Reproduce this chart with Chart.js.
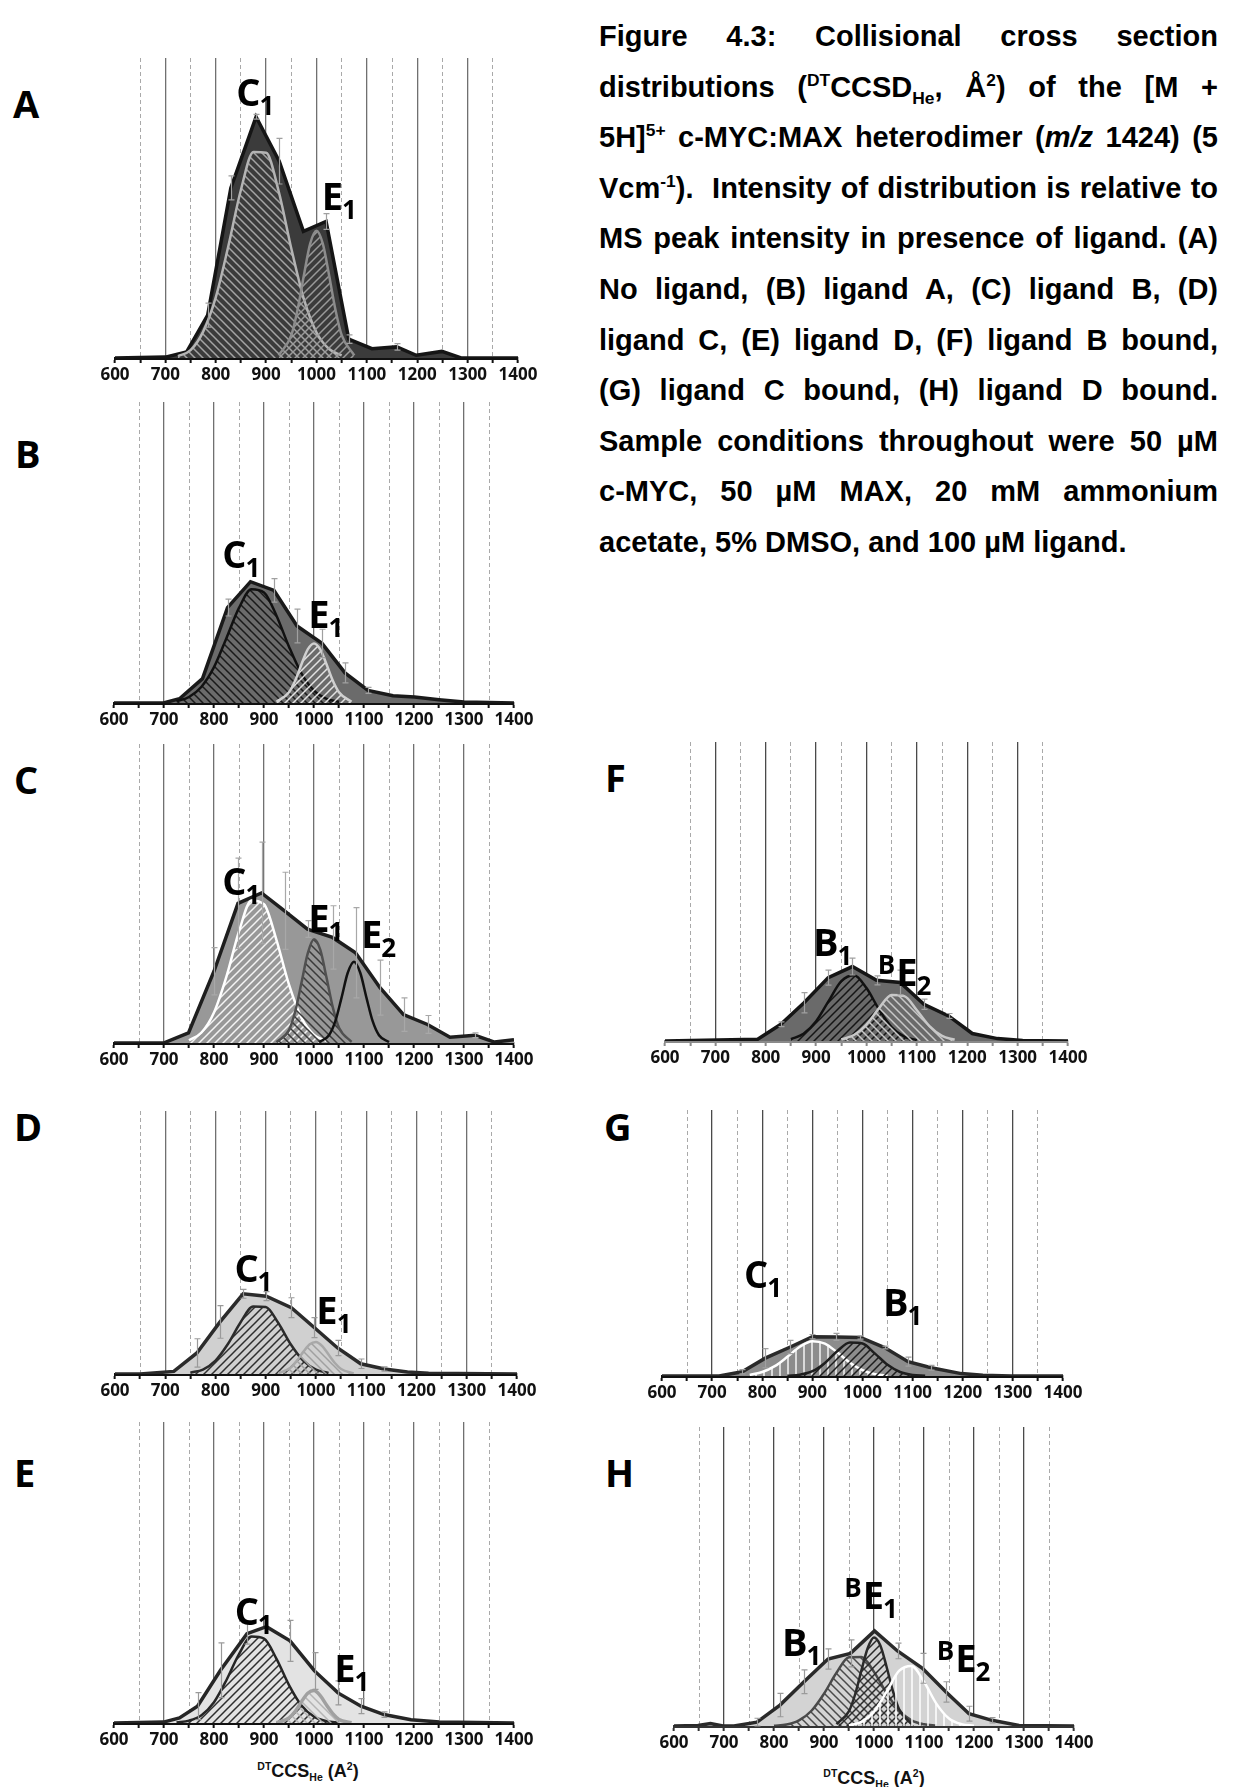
<!DOCTYPE html>
<html>
<head>
<meta charset="utf-8">
<script src="https://cdn.jsdelivr.net/npm/chart.js@4.4.1/dist/chart.umd.min.js"></script>
<style>
  html, body { margin: 0; padding: 0; background: #ffffff; }
  body { width: 1238px; height: 1787px; position: relative; overflow: hidden; }
  .panel { position: absolute; }
  .letter { position: absolute; font-family: 'Open Sans', sans-serif; font-weight: 700;
            font-size: 38px; line-height: 38px; color: #000; }
  .caption { position: absolute; left: 599px; top: 11px; width: 619px;
             font-family: 'Liberation Sans', Arial, sans-serif; font-weight: 700;
             font-size: 29px; line-height: 50.6px; color: #000; }
  .caption div { text-align: justify; text-align-last: justify; }
  .caption div.last { text-align-last: left; }
  .caption sup, .caption sub { font-size: 0.6em; line-height: 0; }
  .xtitle { position: absolute; font-family: 'Liberation Sans', Arial, sans-serif; font-weight: 700;
            font-size: 18px; line-height: 20px; color: #111; white-space: nowrap;
            transform: translate(-50%, -50%); }
  .xtitle .up { font-size: 10.5px; vertical-align: 7px; }
  .xtitle .dn { font-size: 10.5px; vertical-align: -4px; }
</style>
</head>
<body>

<div class="caption">
  <div>Figure 4.3: Collisional cross section</div>
  <div>distributions (<sup>DT</sup>CCSD<sub>He</sub>, Å<sup>2</sup>) of the [M +</div>
  <div>5H]<sup>5+</sup> c-MYC:MAX heterodimer (<i>m/z</i> 1424) (5</div>
  <div>Vcm<sup>-1</sup>).&nbsp; Intensity of distribution is relative to</div>
  <div>MS peak intensity in presence of ligand. (A)</div>
  <div>No ligand, (B) ligand A, (C) ligand B, (D)</div>
  <div>ligand C, (E) ligand D, (F) ligand B bound,</div>
  <div>(G) ligand C bound, (H) ligand D bound.</div>
  <div>Sample conditions throughout were 50 µM</div>
  <div>c-MYC, 50 µM MAX, 20 mM ammonium</div>
  <div class="last">acetate, 5% DMSO, and 100 µM ligand.</div>
</div>

<div class="xtitle" style="left:308px; top:1771px;"><span class="up">DT</span>CCS<span class="dn">He</span> (A<span class="up">2</span>)</div>
<div class="xtitle" style="left:874px; top:1778px;"><span class="up">DT</span>CCS<span class="dn">He</span> (A<span class="up">2</span>)</div>

<script>
// ---- axis ----
const tickLabels = ['600', '700', '800', '900', '1000', '1100', '1200', '1300', '1400'];

// ---- A: no ligand ----
const aTotalX = [600, 700, 742, 784, 830, 880, 926, 974, 1019, 1064, 1110, 1159, 1198, 1249, 1287, 1400];
const aTotalY = [0, 0.3, 2.0, 14.3, 56.7, 80.4, 65.6, 42.2, 45.5, 6.3, 3.1, 3.7, 0.9, 2.2, 0, 0];
const aErrX = [784, 830, 880, 926, 1019, 1064, 1159];
const aErrD = [4.0, 4.0, 0.8, 7.6, 2.6, 1.4, 1.1];
const aC1X = [725, 750, 775, 800, 825, 850, 875, 900, 925, 950, 975, 1000, 1025, 1050];
const aC1Y = [0.6, 2.6, 8.8, 20.2, 37.3, 56.1, 68.7, 68.4, 55.5, 36.5, 19.6, 8.5, 3.0, 0.9];
const aE1X = [925, 950, 962.5, 975, 987.5, 1000, 1012.5, 1025, 1037.5, 1050, 1075];
const aE1Y = [0.9, 7.6, 16.2, 27.6, 38.1, 42.4, 38.1, 27.6, 16.2, 7.6, 0.9];

// ---- B: ligand A ----
const bTotalX = [600, 699, 731, 777, 827, 873, 920, 966, 1016, 1062, 1108, 1158, 1201, 1250, 1300, 1400];
const bTotalY = [0, 0, 1.4, 8.1, 31.7, 40.3, 37.4, 25.6, 19.8, 10.0, 4.2, 2.4, 2.0, 1.1, 0.3, 0];
const bErrX = [827, 920, 966, 1016, 1062, 1108];
const bErrD = [2.8, 3.9, 5.6, 4.7, 3.3, 1.0];
const bC1X = [725, 750, 775, 800, 825, 850, 875, 900, 925, 950, 975, 1000, 1025, 1050];
const bC1Y = [0.6, 2.0, 5.4, 11.9, 21.6, 31.6, 37.8, 36.7, 29.0, 18.7, 9.8, 4.1, 1.4, 0.4];
const bE1X = [925, 950, 962.5, 975, 987.5, 1000, 1012.5, 1025, 1037.5, 1050, 1075];
const bE1Y = [0.4, 3.6, 7.5, 12.9, 17.8, 19.8, 17.8, 12.9, 7.5, 3.6, 0.4];

// ---- C: ligand B ----
const cTotalX = [600, 699, 749, 800, 848, 895, 941, 987, 1037, 1083, 1132, 1179, 1227, 1272, 1322, 1361, 1400];
const cTotalY = [0, 0, 3.4, 24.0, 46.7, 50.2, 44.2, 38.1, 35.3, 30.2, 18.5, 9.5, 6.2, 1.9, 2.6, 0.3, 1.1];
const cErrX = [800, 848, 895, 941, 987, 1037, 1083, 1132, 1179, 1227, 1322];
const cErrD = [7.9, 15.1, 17.0, 12.9, 2.8, 10.6, 15.1, 9.2, 5.6, 3.0, 0.8];
const cC1X = [750, 775, 800, 825, 850, 875, 900, 925, 950, 975, 1000, 1025];
const cC1Y = [0.9, 3.5, 10.2, 22.3, 37.3, 47.7, 46.4, 34.4, 19.5, 8.4, 2.7, 0.7];
const cE1X = [925, 950, 962.5, 975, 987.5, 1000, 1012.5, 1025, 1037.5, 1050, 1075];
const cE1Y = [0.3, 4.3, 10.6, 20.2, 30.0, 34.7, 31.2, 21.9, 12.0, 5.1, 0.4];
const cE2X = [1010, 1030, 1042.5, 1055, 1067.5, 1080, 1092.5, 1105, 1117.5, 1130, 1150];
const cE2Y = [0.3, 2.6, 7.2, 15.1, 23.5, 27.2, 23.5, 15.1, 7.2, 2.6, 0.3];

// ---- D: ligand C ----
const dTotalX = [600, 650, 717, 763, 809, 855, 901, 951, 997, 1043, 1089, 1136, 1182, 1224, 1400];
const dTotalY = [0, 0, 1.0, 8.0, 19.8, 30.5, 29.6, 25.2, 17.6, 9.9, 3.9, 1.9, 0.8, 0.25, 0];
const dErrX = [763, 809, 855, 901, 951, 997, 1043, 1089, 1136];
const dErrD = [5.4, 6.2, 1.7, 1.7, 3.8, 3.8, 2.9, 1.8, 0.8];
const dC1X = [750, 775, 800, 825, 850, 875, 900, 925, 950, 975, 1000, 1025];
const dC1Y = [0.5, 1.7, 5.1, 11.5, 19.7, 25.7, 25.5, 19.4, 11.2, 5.0, 1.7, 0.4];
const dE1X = [925, 950, 962.5, 975, 987.5, 1000, 1012.5, 1025, 1037.5, 1050, 1075];
const dE1Y = [0.3, 2.5, 5.2, 8.5, 11.3, 12.2, 10.6, 7.4, 4.2, 1.9, 0.2];

// ---- E: ligand D ----
const eTotalX = [600, 699, 731, 767, 813, 866, 905, 952, 1001, 1048, 1094, 1140, 1194, 1251, 1400];
const eTotalY = [0, 0.3, 1.7, 5.6, 17.5, 29.7, 32.0, 27.3, 17.3, 10.0, 5.6, 2.8, 1.1, 0.3, 0];
const eErrX = [767, 813, 866, 952, 1001, 1048, 1094, 1140];
const eErrD = [4.5, 9.1, 3.5, 6.8, 6.1, 4.0, 2.5, 0.9];
const eC1X = [725, 750, 775, 800, 825, 850, 875, 900, 925, 950, 975, 1000, 1025, 1050];
const eC1Y = [0.2, 0.8, 2.6, 6.9, 14.3, 22.9, 28.7, 28.0, 21.3, 12.6, 5.8, 2.1, 0.6, 0.1];
const eE1X = [925, 950, 962.5, 975, 987.5, 1000, 1012.5, 1025, 1037.5, 1050, 1075];
const eE1Y = [0.1, 1.7, 3.9, 7.1, 9.9, 10.8, 9.1, 6.0, 3.1, 1.2, 0.1];

// ---- F: ligand B bound ----
const fTotalX = [600, 784, 830, 876, 924, 972, 1020, 1067, 1114, 1163, 1210, 1260, 1310, 1400];
const fTotalY = [0, 0.6, 5.6, 12.8, 21.2, 24.9, 20.3, 19.6, 12.3, 8.4, 2.5, 0.8, 0.2, 0];
const fErrX = [830, 876, 924, 972, 1020, 1067, 1114, 1163];
const fErrD = [0.8, 3.4, 2.5, 2.8, 1.5, 4.1, 1.7, 0.8];
const fB1X = [850, 875, 900, 925, 950, 975, 1000, 1025, 1050, 1075, 1100];
const fB1Y = [0.6, 2.4, 6.6, 13.4, 20.0, 22.0, 17.7, 10.5, 4.6, 1.5, 0.3];
const fBE2X = [950, 975, 1000, 1025, 1050, 1075, 1100, 1125, 1150, 1175];
const fBE2Y = [0.5, 2.0, 5.5, 11.0, 15.4, 15.0, 10.3, 5.0, 1.7, 0.4];

// ---- G: ligand C bound ----
const gTotalX = [600, 714, 760, 806, 856, 900, 948, 996, 1044, 1091, 1137, 1197, 1240, 1297, 1400];
const gTotalY = [0, 0, 1.6, 6.7, 10.9, 14.8, 14.7, 14.5, 10.7, 5.4, 3.1, 0.9, 0.25, 0, 0];
const gErrX = [760, 806, 856, 900, 948, 996, 1044, 1091, 1137];
const gErrD = [0.8, 3.6, 2.5, 0.8, 1.3, 0.6, 0.5, 1.7, 0.9];
const gC1X = [775, 800, 825, 850, 875, 900, 925, 950, 975, 1000, 1025, 1050];
const gC1Y = [0.4, 1.5, 3.7, 7.2, 11.0, 13.1, 12.2, 8.8, 5.0, 2.2, 0.7, 0.2];
const gB1X = [850, 875, 900, 925, 950, 975, 1000, 1025, 1050, 1075, 1100, 1125];
const gB1Y = [0.1, 0.5, 1.8, 4.9, 9.4, 12.6, 12.2, 8.4, 4.2, 1.5, 0.4, 0.1];

// ---- H: ligand D bound ----
const hTotalX = [600, 648, 673, 698, 720, 766, 812, 860, 908, 953, 1001, 1047, 1097, 1144, 1190, 1236, 1290, 1400];
const hTotalY = [0, 0.2, 0.8, 0, 0, 1.3, 7.0, 14.8, 22.4, 24.3, 31.8, 25.1, 19.3, 11.4, 4.1, 1.9, 0.2, 0];
const hErrX = [766, 812, 860, 908, 953, 1047, 1097, 1144, 1190, 1236];
const hErrD = [1.3, 3.9, 4.0, 3.4, 4.5, 2.6, 5.0, 3.4, 2.5, 0.9];
const hB1X = [800, 825, 850, 875, 900, 925, 950, 975, 1000, 1025, 1050, 1075, 1100, 1125];
const hB1Y = [0.1, 0.5, 1.9, 5.1, 10.8, 17.8, 23.0, 23.1, 18.1, 11.0, 5.2, 1.9, 0.6, 0.1];
const hBE1X = [925, 950, 962.5, 975, 987.5, 1000, 1012.5, 1025, 1037.5, 1050, 1075];
const hBE1Y = [0.6, 5.0, 10.7, 18.7, 26.1, 29.6, 27.0, 19.9, 11.9, 5.7, 0.7];
const hBE2X = [950, 975, 1000, 1025, 1050, 1075, 1100, 1125, 1150, 1175, 1200];
const hBE2Y = [0.2, 1.4, 4.8, 11.4, 18.4, 20.1, 14.8, 7.4, 2.5, 0.6, 0.1];

// ---------------------------------------------------------------------------

function pts(xs, ys) { return xs.map((x, i) => ({ x: x, y: ys[i] })); }

// diagonal / vertical hatching used to tell the fitted conformer families apart
function hatch(dir, color, gap, lw) {
  const c = document.createElement('canvas');
  c.width = gap; c.height = gap;
  const g = c.getContext('2d');
  g.strokeStyle = color; g.lineWidth = lw;
  g.beginPath();
  if (dir === '/') {
    g.moveTo(0, gap); g.lineTo(gap, 0);
    g.moveTo(-gap / 2, gap / 2); g.lineTo(gap / 2, -gap / 2);
    g.moveTo(gap / 2, gap * 1.5); g.lineTo(gap * 1.5, gap / 2);
  } else if (dir === '\\') {
    g.moveTo(0, 0); g.lineTo(gap, gap);
    g.moveTo(-gap / 2, gap / 2); g.lineTo(gap / 2, gap * 1.5);
    g.moveTo(gap / 2, -gap / 2); g.lineTo(gap * 1.5, gap / 2);
  } else {
    g.moveTo(gap / 2, 0); g.lineTo(gap / 2, gap);
  }
  g.stroke();
  return g.createPattern(c, 'repeat');
}

// error bars on the measured distribution
const errorBars = {
  id: 'errorBars',
  afterDatasetsDraw(chart, args, opts) {
    if (!opts.xs) return;
    const { ctx } = chart;
    const xs = chart.scales.x, ys = chart.scales.y;
    ctx.save();
    ctx.strokeStyle = opts.color;
    ctx.lineWidth = 1.2;
    opts.xs.forEach((xv, i) => {
      const k = opts.totalX.indexOf(xv);
      const yv = opts.totalY[k];
      const d = opts.ds[i];
      const px = Math.round(xs.getPixelForValue(xv)) + 0.5;
      const p1 = ys.getPixelForValue(yv + d), p2 = ys.getPixelForValue(Math.max(0, yv - d));
      ctx.beginPath();
      ctx.moveTo(px, p1); ctx.lineTo(px, p2);
      ctx.moveTo(px - 3, p1); ctx.lineTo(px + 3, p1);
      ctx.moveTo(px - 3, p2); ctx.lineTo(px + 3, p2);
      ctx.stroke();
    });
    ctx.restore();
  }
};

// conformer family names placed in data coordinates
const peakLabels = {
  id: 'peakLabels',
  afterDraw(chart, args, opts) {
    if (!opts.items) return;
    const { ctx } = chart;
    const xs = chart.scales.x, ys = chart.scales.y;
    const S = 38, s = 26;
    ctx.save();
    ctx.fillStyle = '#000';
    ctx.textBaseline = 'alphabetic';
    ctx.textAlign = 'left';
    opts.items.forEach(l => {
      let px = xs.getPixelForValue(l.x);
      const py = ys.getPixelForValue(l.y) + 4;
      if (l.pre) {
        ctx.font = '700 ' + s + 'px "Open Sans"';
        ctx.fillText(l.pre, px, py - 12);
        px += ctx.measureText(l.pre).width + 1;
      }
      ctx.font = '700 ' + S + 'px "Open Sans"';
      ctx.fillText(l.main, px, py);
      px += ctx.measureText(l.main).width - 1;
      ctx.font = '700 ' + s + 'px "Open Sans"';
      ctx.fillText(l.sub, px, py + 9);
    });
    ctx.restore();
  }
};

function comp(xs, ys, border, width, dir, hatchColor) {
  return {
    data: pts(xs, ys),
    borderColor: border,
    borderWidth: width,
    backgroundColor: dir ? hatch(dir, hatchColor, 8, 1.5) : 'rgba(0,0,0,0)',
    fill: dir ? 'origin' : false,
    pointRadius: 0,
    cubicInterpolationMode: 'monotone'
  };
}

function makePanel(p) {
  const padL = 30, padR = 30, padT = 10, axisH = 40;
  const cw = p.w + padL + padR, ch = p.h + padT + axisH;
  const wrap = document.createElement('div');
  wrap.className = 'panel';
  wrap.style.left = (p.left - padL) + 'px';
  wrap.style.top = (p.top - padT) + 'px';
  wrap.style.width = cw + 'px';
  wrap.style.height = ch + 'px';
  const cv = document.createElement('canvas');
  cv.width = cw; cv.height = ch;
  cv.style.width = cw + 'px'; cv.style.height = ch + 'px';
  wrap.appendChild(cv);
  document.body.appendChild(wrap);

  const letter = document.createElement('div');
  letter.className = 'letter';
  letter.textContent = p.id;
  letter.style.left = p.letter[0] + 'px';
  letter.style.top = (p.letter[1] - 20) + 'px';
  document.body.appendChild(letter);

  const datasets = p.comps.slice();
  datasets.push({
    data: pts(p.totalX, p.totalY),
    borderColor: p.line,
    borderWidth: 3.5,
    backgroundColor: p.fill,
    fill: 'origin',
    pointRadius: 0,
    tension: 0,
    borderJoinStyle: 'miter'
  });

  new Chart(cv, {
    type: 'line',
    data: { datasets: datasets },
    plugins: [errorBars, peakLabels],
    options: {
      responsive: false,
      animation: false,
      devicePixelRatio: 1,
      layout: { padding: { left: padL, right: padR, top: padT, bottom: 0 } },
      plugins: {
        legend: { display: false },
        tooltip: { enabled: false },
        errorBars: { xs: p.errX, ds: p.errD, totalX: p.totalX, totalY: p.totalY, color: p.errColor },
        peakLabels: { items: p.labels }
      },
      scales: {
        x: {
          type: 'linear', position: 'bottom', min: 600, max: 1400,
          afterFit: (sc) => { sc.height = axisH; },
          ticks: {
            stepSize: 50, autoSkip: false, maxRotation: 0, minRotation: 0, padding: 2,
            color: '#111111',
            font: { family: 'Open Sans', weight: '700', size: 17 },
            callback: (v) => (v % 100 === 0 ? tickLabels[(v - 600) / 100] : '')
          },
          grid: {
            drawOnChartArea: true,
            color: (c) => (c.tick && c.tick.value % 100 === 0 && c.tick.value > 600 && c.tick.value < 1400) ? p.gridSolid : 'rgba(0,0,0,0)',
            lineWidth: 1.3,
            drawTicks: true, tickLength: 5, tickWidth: 2, tickColor: p.axis
          },
          border: { display: true, color: p.axis, width: 3 }
        },
        x2: {
          type: 'linear', position: 'top', min: 600, max: 1400,
          afterFit: (sc) => { sc.height = 0; },
          ticks: { stepSize: 50, autoSkip: false, display: false },
          grid: {
            drawOnChartArea: true, drawTicks: false,
            color: (c) => (c.tick && c.tick.value % 100 === 50) ? '#a9a9a9' : 'rgba(0,0,0,0)',
            lineWidth: 1, borderDash: [4, 3]
          },
          border: { display: false, dash: [4, 3] }
        },
        y: { min: 0, max: 100, display: false }
      }
    }
  });
}

const panels = [
  { id: 'A', left: 115, top: 58, w: 403, h: 300, letter: [13, 104],
    totalX: aTotalX, totalY: aTotalY, errX: aErrX, errD: aErrD,
    fill: '#3b3b3b', line: '#151515', axis: '#111', gridSolid: '#707070', errColor: '#a0a0a0',
    comps: [comp(aE1X, aE1Y, '#8c8c8c', 2.5, '/', '#9a9a9a'),
            comp(aC1X, aC1Y, '#b4b4b4', 2.5, '\\', '#a4a4a4')],
    labels: [{ main: 'C', sub: '1', x: 840.7, y: 85.2 }, { main: 'E', sub: '1', x: 1010.6, y: 50.6 }] },
  { id: 'B', left: 114, top: 402, w: 400, h: 301, letter: [15, 454],
    totalX: bTotalX, totalY: bTotalY, errX: bErrX, errD: bErrD,
    fill: '#6b6b6b', line: '#1a1a1a', axis: '#111', gridSolid: '#707070', errColor: '#a0a0a0',
    comps: [comp(bE1X, bE1Y, '#d0d0d0', 2.5, '/', '#e2e2e2'),
            comp(bC1X, bC1Y, '#111111', 2.5, '\\', '#1a1a1a')],
    labels: [{ main: 'C', sub: '1', x: 816.4, y: 46.1 }, { main: 'E', sub: '1', x: 988.6, y: 26.1 }] },
  { id: 'C', left: 114, top: 744, w: 400, h: 299, letter: [14, 780],
    totalX: cTotalX, totalY: cTotalY, errX: cErrX, errD: cErrD,
    fill: '#989898', line: '#1e1e1e', axis: '#111', gridSolid: '#707070', errColor: '#a8a8a8',
    comps: [comp(cE2X, cE2Y, '#111111', 2.5, null, null),
            comp(cE1X, cE1Y, '#505050', 2.5, '\\', '#3a3a3a'),
            comp(cC1X, cC1Y, '#ffffff', 2.5, '/', '#f4f4f4')],
    labels: [{ main: 'C', sub: '1', x: 816.4, y: 51.0 }, { main: 'E', sub: '1', x: 988.6, y: 38.6 },
             { main: 'E', sub: '2', x: 1094, y: 33.0 }] },
  { id: 'D', left: 115, top: 1111, w: 402, h: 263, letter: [14, 1127],
    totalX: dTotalX, totalY: dTotalY, errX: dErrX, errD: dErrD,
    fill: '#d0d0d0', line: '#2b2b2b', axis: '#111', gridSolid: '#707070', errColor: '#9a9a9a',
    comps: [comp(dE1X, dE1Y, '#a8a8a8', 2.5, '\\', '#a0a0a0'),
            comp(dC1X, dC1Y, '#2b2b2b', 2.5, '/', '#2e2e2e')],
    labels: [{ main: 'C', sub: '1', x: 837.6, y: 36.6 }, { main: 'E', sub: '1', x: 1000.7, y: 20.7 }] },
  { id: 'E', left: 114, top: 1422, w: 400, h: 301, letter: [14, 1473],
    totalX: eTotalX, totalY: eTotalY, errX: eErrX, errD: eErrD,
    fill: '#e3e3e3', line: '#262626', axis: '#111', gridSolid: '#707070', errColor: '#9a9a9a',
    comps: [comp(eE1X, eE1Y, '#a0a0a0', 3.5, '\\', '#b4b4b4'),
            comp(eC1X, eC1Y, '#262626', 2.5, '/', '#2e2e2e')],
    labels: [{ main: 'C', sub: '1', x: 841.3, y: 34.0 }, { main: 'E', sub: '1', x: 1040.6, y: 15.0 }] },
  { id: 'F', left: 665, top: 742, w: 403, h: 299, letter: [605, 778],
    totalX: fTotalX, totalY: fTotalY, errX: fErrX, errD: fErrD,
    fill: '#6a6a6a', line: '#151515', axis: '#8a8a8a', gridSolid: '#4a4a4a', errColor: '#a0a0a0',
    comps: [comp(fBE2X, fBE2Y, '#c8c8c8', 2.5, '\\', '#c8c8c8'),
            comp(fB1X, fB1Y, '#111111', 2.5, '/', '#151515')],
    labels: [{ main: 'B', sub: '1', x: 893.7, y: 29.6 }, { pre: 'B', main: 'E', sub: '2', x: 1022.5, y: 19.6 }] },
  { id: 'G', left: 662, top: 1110, w: 401, h: 266, letter: [604, 1127],
    totalX: gTotalX, totalY: gTotalY, errX: gErrX, errD: gErrD,
    fill: '#8c8c8c', line: '#2a2a2a', axis: '#111', gridSolid: '#4a4a4a', errColor: '#a0a0a0',
    comps: [comp(gB1X, gB1Y, '#1e1e1e', 2.5, '/', '#1e1e1e'),
            comp(gC1X, gC1Y, '#ffffff', 2.5, '|', '#f4f4f4')],
    labels: [{ main: 'C', sub: '1', x: 763.6, y: 34.6 }, { main: 'B', sub: '1', x: 1041, y: 23.9 }] },
  { id: 'H', left: 674, top: 1427, w: 400, h: 299, letter: [605, 1473],
    totalX: hTotalX, totalY: hTotalY, errX: hErrX, errD: hErrD,
    fill: '#d3d3d3', line: '#2a2a2a', axis: '#333', gridSolid: '#4a4a4a', errColor: '#9a9a9a',
    comps: [comp(hBE2X, hBE2Y, '#ffffff', 2.5, '|', '#ffffff'),
            comp(hBE1X, hBE1Y, '#2a2a2a', 2.5, '/', '#2a2a2a'),
            comp(hB1X, hB1Y, '#4a4a4a', 2.5, '\\', '#4a4a4a')],
    labels: [{ main: 'B', sub: '1', x: 815.8, y: 24.9 }, { pre: 'B', main: 'E', sub: '1', x: 940.5, y: 40.6 },
             { pre: 'B', main: 'E', sub: '2', x: 1125.6, y: 19.3 }] }
];

panels.forEach(makePanel);
</script>
</body>
</html>
